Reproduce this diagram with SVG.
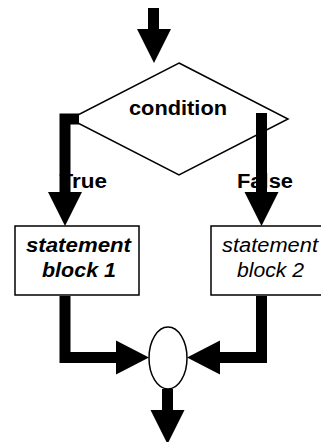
<svg xmlns="http://www.w3.org/2000/svg" width="321" height="442" viewBox="0 0 321 442">
<style>
.shape{fill:#fff;stroke:#000;stroke-width:1.5}
.t{font-family:"Liberation Sans",Arial,sans-serif;font-size:20px;fill:#000}
.b{font-weight:bold}
.i{font-style:italic}
.shaft{fill:none;stroke:#000;stroke-width:11;stroke-linejoin:miter;stroke-linecap:butt}
.head{fill:#000}
</style>
<rect width="321" height="442" fill="#fff"/>
<g id="condition">
<polygon class="shape" points="179,63 288,119 179,175 70,119"/>
<text class="t b" x="129" y="115" textLength="98" lengthAdjust="spacingAndGlyphs">condition</text>
</g>
<g id="block1">
<rect class="shape" x="15" y="226" width="124" height="69"/>
<text class="t b i" x="26" y="252" textLength="105" lengthAdjust="spacingAndGlyphs">statement</text>
<text class="t b i" x="42" y="277" textLength="74" lengthAdjust="spacingAndGlyphs">block 1</text>
</g>
<g id="block2">
<rect class="shape" x="211" y="226" width="120" height="69"/>
<text class="t i" x="222" y="252" textLength="96" lengthAdjust="spacingAndGlyphs">statement</text>
<text class="t i" x="237" y="277" textLength="67" lengthAdjust="spacingAndGlyphs">block 2</text>
</g>
<g id="join">
<ellipse class="shape" cx="168" cy="358" rx="19" ry="31"/>
</g>
<g id="labels">
<text class="t b" x="59.5" y="188" textLength="47.5" lengthAdjust="spacingAndGlyphs">True</text>
<text class="t b" x="237" y="188" textLength="56" lengthAdjust="spacingAndGlyphs">False</text>
</g>
<g id="connectors">
<path class="shaft" d="M153.5,8 V30"/>
<polygon class="head" points="137,29 171,29 154,63"/>
<path class="shaft" d="M79,119 H65 V193"/>
<polygon class="head" points="48,192 82,192 65,226"/>
<path class="shaft" d="M261.5,113 V193"/>
<polygon class="head" points="244.5,192 278.5,192 261.5,226"/>
<path class="shaft" d="M65,296 V357.5 H117"/>
<polygon class="head" points="116,340.5 116,374.5 149,357.5"/>
<path class="shaft" d="M261.5,296 V357.5 H219"/>
<polygon class="head" points="220,340.5 220,374.5 187,357.5"/>
<path class="shaft" d="M167.5,389 V411"/>
<polygon class="head" points="150.5,410 184.5,410 167.5,444"/>
</g>
</svg>
